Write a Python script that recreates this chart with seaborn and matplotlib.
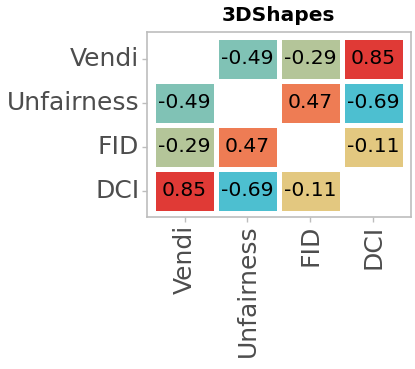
import numpy as np
import pandas as pd
import seaborn as sns
import matplotlib.pyplot as plt
from matplotlib.colors import LinearSegmentedColormap

# metric names and pairwise correlations (3DShapes)
metrics = ["Vendi", "Unfairness", "FID", "DCI"]
vendi = [np.nan, -0.49, -0.29, 0.85]
unfairness = [-0.49, np.nan, 0.47, -0.69]
fid = [-0.29, 0.47, np.nan, -0.11]
dci = [0.85, -0.69, -0.11, np.nan]

corr = pd.DataFrame([vendi, unfairness, fid, dci], index=metrics, columns=metrics)

cmap = LinearSegmentedColormap.from_list(
    "tealred",
    [(0.0, "#4dbfd0"), (0.377, "#e3c880"), (0.753, "#ee7c54"), (1.0, "#e03a36")],
)

sns.set_style("white")
plt.rcParams["font.family"] = ["DejaVu Sans"]

fig = plt.figure(figsize=(4.15, 3.69), dpi=100)
ax = fig.add_axes([0.354, 0.412, 0.636, 0.501])

sns.heatmap(corr, ax=ax, cmap=cmap, vmin=-0.69, vmax=0.85, annot=True, fmt=".2f",
            annot_kws={"fontsize": 14.6, "color": "black"}, cbar=False,
            linewidths=3.4, linecolor="white", square=False)

ax.set_xlim(-0.1, 4.1)
ax.set_ylim(4.1, -0.1)
for s in ax.spines.values():
    s.set_visible(True)
    s.set_color("#bdbdbd")
    s.set_linewidth(1.2)

ax.tick_params(axis="both", length=3.5, width=1, color="#bdbdbd",
               labelsize=18, labelcolor="#4d4d4d", pad=2)
ax.tick_params(axis="x", bottom=True, rotation=90)
ax.tick_params(axis="y", left=True, rotation=0)
ax.set_xlabel("")
ax.set_ylabel("")
ax.set_title("3DShapes", fontsize=14.5, fontweight="bold", color="black", pad=8)

fig.savefig("out.png", dpi=100)
